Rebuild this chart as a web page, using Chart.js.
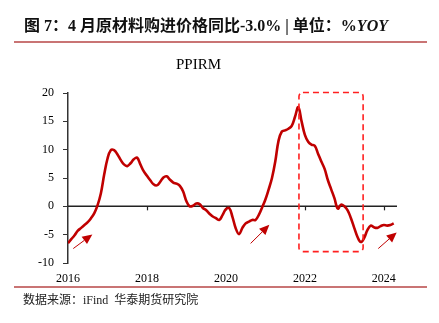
<!DOCTYPE html>
<html>
<head>
<meta charset="utf-8">
<script src="https://cdn.jsdelivr.net/npm/chart.js@4.4.1/dist/chart.umd.min.js"></script>
<style>
  html, body { margin: 0; padding: 0; background: #fff; }
  #wrap { position: relative; width: 439px; height: 323px; overflow: hidden; }
  #c { position: absolute; left: 0; top: 0; }
  #head { position: absolute; left: 24px; top: 12px; line-height: 16px; white-space: nowrap;
          font: bold 16px "Liberation Serif", "Noto Sans CJK SC", serif; color: #111; }
  #head i { font-style: italic; }
  .rule { position: absolute; left: 14px; width: 413px; height: 2px; background: #c97474; }
  #foot { position: absolute; left: 23px; top: 290px; line-height: 13px; white-space: nowrap;
          font: 12px "Liberation Serif", "Noto Sans CJK SC", serif; color: #222; }
</style>
</head>
<body>
<div id="wrap">
  <canvas id="c" width="439" height="323"></canvas>
  <div id="head">图 7：4 月原材料购进价格同比-3.0% | 单位：%<i>YOY</i></div>
  <div class="rule" style="top:41px"></div>
  <div class="rule" style="top:286px"></div>
  <div id="foot">数据来源：iFind&nbsp;&nbsp;华泰期货研究院</div>
</div>
<script>
// PPIRM year-on-year, monthly, 2016-01 .. 2024-04 (%)
const ppirm = [
  -6.5, -5.8, -5.1, -4.3, -3.8, -3.3, -2.8, -2.1, -1.2,  0.2,  2.3,  5.6,   // 2016
   8.4,  9.9,  9.9,  9.2,  8.2,  7.4,  7.1,  7.6,  8.3,  8.6,  7.4,  6.2,   // 2017
   5.4,  4.6,  3.9,  3.7,  4.3,  5.1,  5.3,  4.7,  4.2,  4.0,  3.6,  2.6,   // 2018
   0.9,  0.0,  0.1,  0.5,  0.4, -0.3, -0.7, -1.3, -1.8, -2.1, -2.4, -1.5,   // 2019
  -0.5, -0.3, -1.9, -3.9, -4.9, -3.8, -3.0, -2.7, -2.4, -2.4, -1.5, -0.2,   // 2020
   1.2,  3.0,  5.0,  7.9, 11.6, 13.2, 13.4, 13.7, 14.2, 15.8, 17.5, 15.0,   // 2021
  12.6, 11.4, 10.9, 10.7,  9.3,  7.9,  6.6,  4.6,  3.0,  1.4, -0.4,  0.3,   // 2022
   0.0, -0.7, -2.1, -3.8, -5.4, -6.3, -5.6, -4.2, -3.4, -3.7, -3.8, -3.5,   // 2023
  -3.3, -3.4, -3.3, -3.0                                                    // 2024
];

// Year tick labels and the month index each one sits on
const yearLabels = ['2016', '2018', '2020', '2022', '2024'];
const yearTicks  = [0, 24, 48, 72, 96];

// Highlighted period (in axis units) and trend arrows [from, to]
const highlightBox = { x0: 70.2, x1: 89.7, yTop: 20.1, yBottom: -8.0 };
const trendArrows = [
  [[1.6, -7.45], [7.4, -4.95]],
  [[55.5, -6.55], [61.2, -3.27]],
  [[94.3, -7.45], [99.9, -4.6]]
];

const lineColor = '#c00000';
const serif = 'Liberation Serif';

const overlay = {
  id: 'overlay',
  beforeDatasetsDraw(chart) {
    const { ctx, chartArea, scales: { x, y } } = chart;
    const y0 = y.getPixelForValue(0);
    ctx.save();
    ctx.strokeStyle = '#222';
    ctx.lineWidth = 1.5;
    ctx.beginPath();
    ctx.moveTo(chartArea.left, y0);
    ctx.lineTo(chartArea.right, y0);
    ctx.stroke();
    ctx.lineWidth = 1.2;
    yearTicks.slice(1).forEach(t => {
      const px = Math.round(x.getPixelForValue(t)) + 0.5;
      ctx.beginPath();
      ctx.moveTo(px, y0);
      ctx.lineTo(px, y0 + 4);
      ctx.stroke();
    });
    ctx.restore();
  },
  afterDatasetsDraw(chart) {
    const { ctx, scales: { x, y } } = chart;
    ctx.save();
    // dashed highlight box
    const bx0 = x.getPixelForValue(highlightBox.x0), bx1 = x.getPixelForValue(highlightBox.x1);
    const by0 = y.getPixelForValue(highlightBox.yTop), by1 = y.getPixelForValue(highlightBox.yBottom);
    ctx.strokeStyle = '#ff2020';
    ctx.lineWidth = 1.6;
    ctx.setLineDash([6, 4]);
    ctx.beginPath();
    ctx.roundRect(bx0, by0, bx1 - bx0, by1 - by0, 4);
    ctx.stroke();
    ctx.setLineDash([]);
    // arrows
    ctx.strokeStyle = lineColor;
    ctx.fillStyle = lineColor;
    trendArrows.forEach(([a, b]) => {
      const x1 = x.getPixelForValue(a[0]), y1 = y.getPixelForValue(a[1]);
      const x2 = x.getPixelForValue(b[0]), y2 = y.getPixelForValue(b[1]);
      const ang = Math.atan2(y2 - y1, x2 - x1);
      const headLen = 10, headHalf = 4.5;
      const bxh = x2 - headLen * Math.cos(ang), byh = y2 - headLen * Math.sin(ang);
      ctx.lineWidth = 1;
      ctx.beginPath();
      ctx.moveTo(x1, y1);
      ctx.lineTo(bxh, byh);
      ctx.stroke();
      ctx.beginPath();
      ctx.moveTo(x2, y2);
      ctx.lineTo(bxh + headHalf * Math.sin(ang), byh - headHalf * Math.cos(ang));
      ctx.lineTo(bxh - headHalf * Math.sin(ang), byh + headHalf * Math.cos(ang));
      ctx.closePath();
      ctx.fill();
    });
    ctx.restore();
  }
};

new Chart(document.getElementById('c'), {
  type: 'line',
  data: {
    datasets: [{
      label: 'PPIRM',
      data: ppirm.map((v, i) => ({ x: i, y: v })),
      borderColor: lineColor,
      borderWidth: 2.6,
      pointRadius: 0,
      tension: 0.4,
      fill: false
    }]
  },
  options: {
    responsive: false,
    animation: false,
    devicePixelRatio: 1,
    layout: { padding: { left: 0, right: 42, top: 56, bottom: 27.6 } },
    plugins: {
      legend: { display: false },
      tooltip: { enabled: false },
      title: {
        display: true,
        text: 'PPIRM',
        color: '#000',
        font: { family: serif, size: 15, weight: 'normal' },
        padding: { top: 0, bottom: 19 }
      }
    },
    scales: {
      x: {
        type: 'linear',
        min: 0,
        max: 100,
        afterBuildTicks(scale) { scale.ticks = yearTicks.map(v => ({ value: v })); },
        ticks: {
          padding: 9,
          color: '#000',
          maxRotation: 0,
          font: { family: serif, size: 12 },
          callback: (v) => yearLabels[yearTicks.indexOf(v)]
        },
        grid: { display: false, drawTicks: false },
        border: { display: false }
      },
      y: {
        min: -10,
        max: 20,
        afterFit(scale) { scale.width = 68; },
        ticks: {
          stepSize: 5,
          padding: 9,
          color: '#000',
          font: { family: serif, size: 12 }
        },
        grid: { display: true, drawOnChartArea: false, drawTicks: true, tickLength: 5, color: '#333', lineWidth: 1 },
        border: { display: true, color: '#333', width: 1.5 }
      }
    }
  },
  plugins: [overlay]
});
</script>
</body>
</html>
